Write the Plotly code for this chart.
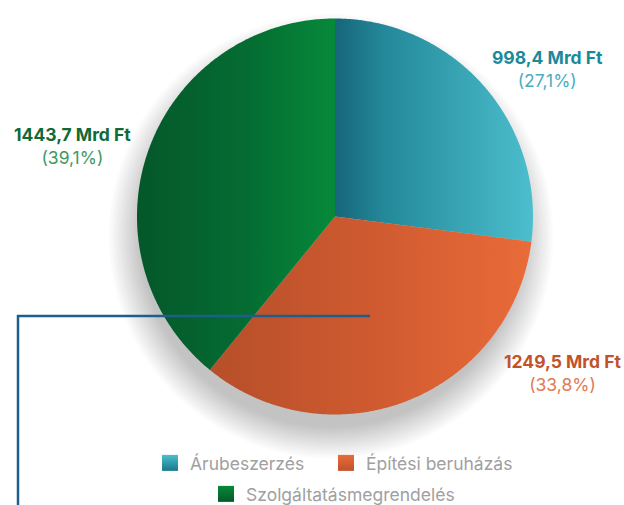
import numpy as np
import plotly.graph_objects as go

# ---- data ----
categories = ["Árubeszerzés", "Építési beruházás", "Szolgáltatásmegrendelés"]
values = [998.4, 1249.5, 1443.7]          # Mrd Ft
percents = [27.1, 33.8, 39.1]             # as printed on the chart
units = "Mrd Ft"

# ---- styles ----
grad_scales = [
    [[0, "#166678"], [0.25, "#23899a"], [1, "#4cbecd"]],
    [[0, "#b64f2a"], [0.5, "#cf5a30"], [1, "#e96b39"]],
    [[0, "#04572a"], [0.55, "#046c32"], [1, "#06893a"]],
]
legend_top = ["#4cbecd", "#e96b39", "#06893a"]
legend_bot = ["#18788a", "#bf532b", "#04592b"]
label_main = ["#1a8a9b", "#c0532b", "#0f6a35"]
label_pct = ["#4aaebf", "#e27b52", "#3d9a62"]
label_pos = [(0.878, 0.863), (0.901, 0.261), (0.1154, 0.711)]  # paper coords
legend_ids = ["legend", "legend2", "legend3"]
legend_xy = [(150, 463), (326, 463), (206, 494)]  # px: left edge, text middle

W, H = 624, 505
CX, CY, R = 335, 216.5, 198   # pixel geometry of the pie
FONT = "Inter"
FS = 17.5

fig = go.Figure()

# pie wedges, clockwise from 12 o'clock, computed from values
total = sum(values)
start = 0.0
for i, v in enumerate(values):
    frac = v / total
    a = np.linspace(start, start + frac, 240) * 2 * np.pi
    xs = np.concatenate([[0], np.sin(a), [0]])
    ys = np.concatenate([[0], np.cos(a), [0]])
    fig.add_trace(go.Scatter(
        x=xs, y=ys, mode="none", fill="toself",
        fillgradient=dict(type="horizontal", colorscale=grad_scales[i]),
        showlegend=False, hoverinfo="skip",
    ))
    start += frac

# legend entries
for i, c in enumerate(categories):
    fig.add_trace(go.Scatter(
        x=[None], y=[None], mode="markers", name=c,
        marker=dict(symbol="square", size=16, color=legend_top[i],
                    gradient=dict(type="vertical", color=legend_bot[i]),
                    line=dict(width=0)),
        legend=legend_ids[i],
    ))

# soft shadow behind pie (stack of faint circles, offset downward)
shapes = []
n_sh = 30
for k in range(1, n_sh + 1):
    rr = 0.96 + k * 0.0055
    ox, oy = -0.02, -0.1
    shapes.append(dict(type="circle", xref="x", yref="y",
                       x0=ox - rr, x1=ox + rr, y0=oy - rr, y1=oy + rr,
                       fillcolor="rgba(0,0,0,0.0075)", line=dict(width=0),
                       layer="below"))

# stray connector line
ly = 1 - 316 / H
shapes.append(dict(type="path", xref="paper", yref="paper",
                   path=f"M {370/W},{ly} L {18/W},{ly} L {18/W},-0.05",
                   line=dict(color="#1d5f8b", width=2.5), layer="above"))

annotations = []
for i, v in enumerate(values):
    vs = f"{v:.1f}".replace(".", ",")
    ps = f"{percents[i]:.1f}".replace(".", ",")
    annotations.append(dict(
        x=label_pos[i][0], y=label_pos[i][1], xref="paper", yref="paper",
        xanchor="center", yanchor="middle", showarrow=False, align="center",
        text=f"<b>{vs} {units}</b><br><span style='color:{label_pct[i]}'>({ps}%)</span>",
        font=dict(family=FONT, size=FS, color=label_main[i]),
    ))

leg_common = dict(orientation="h", xref="container", yref="container",
                  xanchor="left", yanchor="middle",
                  bgcolor="rgba(0,0,0,0)", font=dict(family=FONT, size=FS, color="#a0a0a0"),
                  itemclick=False, itemdoubleclick=False)
legends = {}
for i, lid in enumerate(legend_ids):
    lx, lyy = legend_xy[i]
    legends[lid] = dict(x=lx / W, y=1 - lyy / H, **leg_common)

fig.update_layout(
    width=W, height=H,
    margin=dict(l=0, r=0, t=0, b=0, autoexpand=False),
    paper_bgcolor="white", plot_bgcolor="white",
    xaxis=dict(range=[-CX / R, (W - CX) / R], visible=False, fixedrange=True),
    yaxis=dict(range=[-(H - CY) / R, CY / R], visible=False, fixedrange=True),
    shapes=shapes,
    annotations=annotations,
    font=dict(family=FONT),
    **legends,
)

fig.write_html("out.html", config={"displayModeBar": False},
               post_script="document.body.style.margin='0';")
